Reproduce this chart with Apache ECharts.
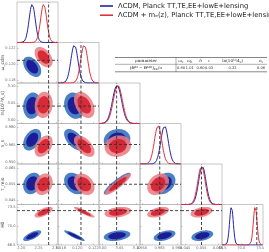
<!DOCTYPE html>
<html><head><meta charset="utf-8">
<script src="https://cdn.jsdelivr.net/npm/echarts@6/dist/echarts.min.js"></script>
<style>html,body{margin:0;padding:0;background:#fff}#c{width:269px;height:252px}</style>
</head><body><div id="c"></div>
<script>
// ---------- data ----------
const paramLabels = ['100ω_b', 'ω_cdm', 'ln(10¹⁰A_s)', 'n_s', 'τ_reio', 'H0'];
const paramMin = [2.188, 0.11765, 2.99, 0.9483, 0.0425, 66.42];
const paramMax = [2.306, 0.12265, 3.11, 0.9832, 0.0675, 74.03];
const paramTicks = [[2.20, 2.25, 2.30], [0.118, 0.120, 0.122], [3.00, 3.05, 3.10], [0.95, 0.965, 0.98], [0.045, 0.055, 0.065], [66.5, 70, 73.5]];
const tickDecimals = [2, 3, 2, 3, 3, 1];
const refValue = [2.279, 0.12045, 3.0416, 0.9651, 0.055, 72.88];
const meanLCDM = [2.2317, 0.11965, 3.0428, 0.9692, 0.0555, 68.17];
const sdLCDM = [0.0088, 0.000425, 0.0132, 0.00314, 0.00225, 0.34];
const meanME = [2.2647, 0.12085, 3.0452, 0.9637, 0.0550, 72.58];
const sdME = [0.0088, 0.000425, 0.0132, 0.00314, 0.00225, 0.34];
// correlation coefficients, lower triangle [row][col]
const corrLCDM = [[], [-0.45], [0.1, -0.15], [0.4, -0.55, 0.1], [0.2, -0.3, 0.9, 0.3], [0.7, -0.9, 0.3, 0.45, 0.35]];
const corrME = [[], [-0.45], [0.1, -0.4], [0.4, -0.55, 0.1], [0.2, -0.3, 0.9, 0.3], [0.65, -0.9, 0.3, 0.45, 0.35]];
const legendNames = ['ΛCDM, Planck TT,TE,EE+lowE+lensing', 'ΛCDM + mₑ(z), Planck TT,TE,EE+lowE+lensing'];
const tableHeader = ['{n|parameter}', '{i|ω}{s|c}', '{i|ω}{s|b}', '{i|h}', '{i|τ}', '{n|ln(10}{p|10}{i|A}{s|s}{n|)}', '{i|n}{s|s}'];
const tableRowLabel = '{n|(}{i|Θ}{p|M}{n| − }{i|Θ}{p|MR}{n|)}{s|EE}{n|/σ}';
const tableShift = ['0.60', '1.01', '0.60', '0.03', '0.32', '0.06'];

// ---------- chart ----------
const NP = 6, L0 = 17, T0 = 2, PW = 41, PH = 40.5;
const blueLine = '#2424a6', redLine = '#e0323c';
const fillCols = ['#4a80c4', '#1c1c9a', 'rgba(234,122,130,0.86)', 'rgba(214,28,42,0.88)'];
const K68 = 1.95, K95 = 2.95;
const grids = [], xAxes = [], yAxes = [], series = [];
const tickStyle = {show: true, inside: true, length: 1.5, lineStyle: {color: '#999', width: 0.5}};
const labStyle = {fontSize: 3.6, color: '#666', margin: 1.5, fontFamily: 'DejaVu Sans'};
function dashed(g, pts) {
  return {type: 'line', xAxisIndex: g, yAxisIndex: g, data: pts, showSymbol: false, silent: true, z: 6,
    lineStyle: {color: '#333', width: 0.9, type: [3, 2]}, animation: false};
}
function renderEllipse(params, api) {
  const mx = api.value(0), my = api.value(1), sx = api.value(2), sy = api.value(3), r = api.value(4), k = api.value(5), ci = api.value(6);
  const pts = [];
  const q = Math.sqrt(1 - r * r);
  for (let t = 0; t < 72; t++) {
    const a = t / 72 * 2 * Math.PI, c = Math.cos(a), s = Math.sin(a);
    pts.push(api.coord([mx + sx * k * c, my + sy * k * (r * c + q * s)]));
  }
  return {type: 'polygon', shape: {points: pts}, style: {fill: fillCols[ci], stroke: null}};
}
let g = 0;
for (let i = 0; i < NP; i++) {
  for (let j = 0; j <= i; j++) {
    grids.push({left: L0 + PW * j, top: T0 + PH * i, width: PW, height: PH, show: true,
      borderColor: '#b8b8b8', borderWidth: 0.8, outerBoundsMode: 'none', containLabel: false});
    xAxes.push({gridIndex: g, type: 'value', min: paramMin[j], max: paramMax[j],
      axisLine: {show: false}, splitLine: {show: false},
      axisTick: Object.assign({customValues: paramTicks[j]}, tickStyle),
      axisLabel: Object.assign({show: i === NP - 1, customValues: paramTicks[j], formatter: v => v.toFixed(tickDecimals[j])}, labStyle)});
    if (i === j) {
      yAxes.push({gridIndex: g, type: 'value', min: 0, max: 1.06, show: false});
      const d1 = [], d2 = [];
      const step = (paramMax[j] - paramMin[j]) / 100;
      for (let n = 0; n <= 100; n++) {
        const x = paramMin[j] + n * step;
        d1.push([x, Math.exp(-0.5 * Math.pow((x - meanLCDM[j]) / sdLCDM[j], 2))]);
        d2.push([x, Math.exp(-0.5 * Math.pow((x - meanME[j]) / sdME[j], 2))]);
      }
      series.push({type: 'line', name: legendNames[0], xAxisIndex: g, yAxisIndex: g, data: d1, showSymbol: false,
        color: blueLine, lineStyle: {width: 1, color: blueLine}, animation: false, z: 3});
      series.push({type: 'line', name: legendNames[1], xAxisIndex: g, yAxisIndex: g, data: d2, showSymbol: false,
        color: redLine, lineStyle: {width: 1, color: redLine}, animation: false, z: 4});
      series.push(dashed(g, [[refValue[j], 0], [refValue[j], 1.06]]));
    } else {
      yAxes.push({gridIndex: g, type: 'value', min: paramMin[i], max: paramMax[i],
        axisLine: {show: false}, splitLine: {show: false},
        axisTick: Object.assign({customValues: paramTicks[i]}, tickStyle),
        axisLabel: Object.assign({show: j === 0, customValues: paramTicks[i], formatter: v => v.toFixed(tickDecimals[i])}, labStyle),
        name: j === 0 ? paramLabels[i] : '', nameLocation: 'middle', nameGap: 12, nameRotate: 90, nameMoveOverlap: false,
        nameTextStyle: {fontSize: 4.5, color: '#444', fontFamily: 'DejaVu Sans'}});
      series.push({type: 'custom', xAxisIndex: g, yAxisIndex: g, clip: true, silent: true, animation: false, z: 2,
        renderItem: renderEllipse,
        data: [
          [meanLCDM[j], meanLCDM[i], sdLCDM[j], sdLCDM[i], corrLCDM[i][j], K95, 0],
          [meanLCDM[j], meanLCDM[i], sdLCDM[j], sdLCDM[i], corrLCDM[i][j], K68, 1],
          [meanME[j], meanME[i], sdME[j], sdME[i], corrME[i][j], K95, 2],
          [meanME[j], meanME[i], sdME[j], sdME[i], corrME[i][j], K68, 3]
        ]});
      series.push(dashed(g, [[refValue[j], paramMin[i]], [refValue[j], paramMax[i]]]));
      series.push(dashed(g, [[paramMin[j], refValue[i]], [paramMax[j], refValue[i]]]));
    }
    g++;
  }
}
// table graphic
const serif = 'DejaVu Serif';
const rich = {
  n: {fontFamily: serif, fontSize: 4.1, fill: '#222'},
  v: {fontFamily: serif, fontSize: 3.6, fill: '#222'},
  i: {fontFamily: serif, fontSize: 4.1, fontStyle: 'italic', fill: '#222'},
  s: {fontFamily: serif, fontSize: 2.9, fontStyle: 'italic', fill: '#222', padding: [2, 0, 0, 0]},
  p: {fontFamily: serif, fontSize: 2.9, fill: '#222', padding: [0, 0, 2, 0]}
};
const colX = [146, 181, 189.8, 200.5, 209, 232.5, 261];
const tbl = [];
tbl.push({type: 'line', shape: {x1: 115, y1: 57.5, x2: 267, y2: 57.5}, style: {stroke: '#333', lineWidth: 0.6}});
tbl.push({type: 'line', shape: {x1: 115, y1: 64.3, x2: 267, y2: 64.3}, style: {stroke: '#333', lineWidth: 0.4}});
tbl.push({type: 'line', shape: {x1: 115, y1: 71.8, x2: 267, y2: 71.8}, style: {stroke: '#333', lineWidth: 0.6}});
tbl.push({type: 'line', shape: {x1: 176, y1: 57.5, x2: 176, y2: 71.8}, style: {stroke: '#333', lineWidth: 0.4}});
tableHeader.forEach((t, k) => tbl.push({type: 'text', x: colX[k], y: 61, style: {text: t, rich: rich, align: 'center', verticalAlign: 'middle'}}));
tbl.push({type: 'text', x: colX[0], y: 68, style: {text: tableRowLabel, rich: rich, align: 'center', verticalAlign: 'middle'}});
tableShift.forEach((t, k) => tbl.push({type: 'text', x: colX[k + 1], y: 68, style: {text: '{v|' + t + '}', rich: rich, align: 'center', verticalAlign: 'middle'}}));

const chart = echarts.init(document.getElementById('c'), null, {renderer: 'canvas'});
chart.setOption({
  animation: false,
  grid: grids, xAxis: xAxes, yAxis: yAxes, series: series,
  legend: {data: legendNames, orient: 'vertical', left: 100, top: 2.5, icon: 'rect', itemWidth: 13, itemHeight: 1.6, itemGap: 2.2,
    textStyle: {fontSize: 6.8, color: '#222', fontFamily: 'DejaVu Sans', padding: [0, 0, 0, 0]}, padding: 0, selectedMode: false},
  graphic: tbl
});
</script></body></html>
